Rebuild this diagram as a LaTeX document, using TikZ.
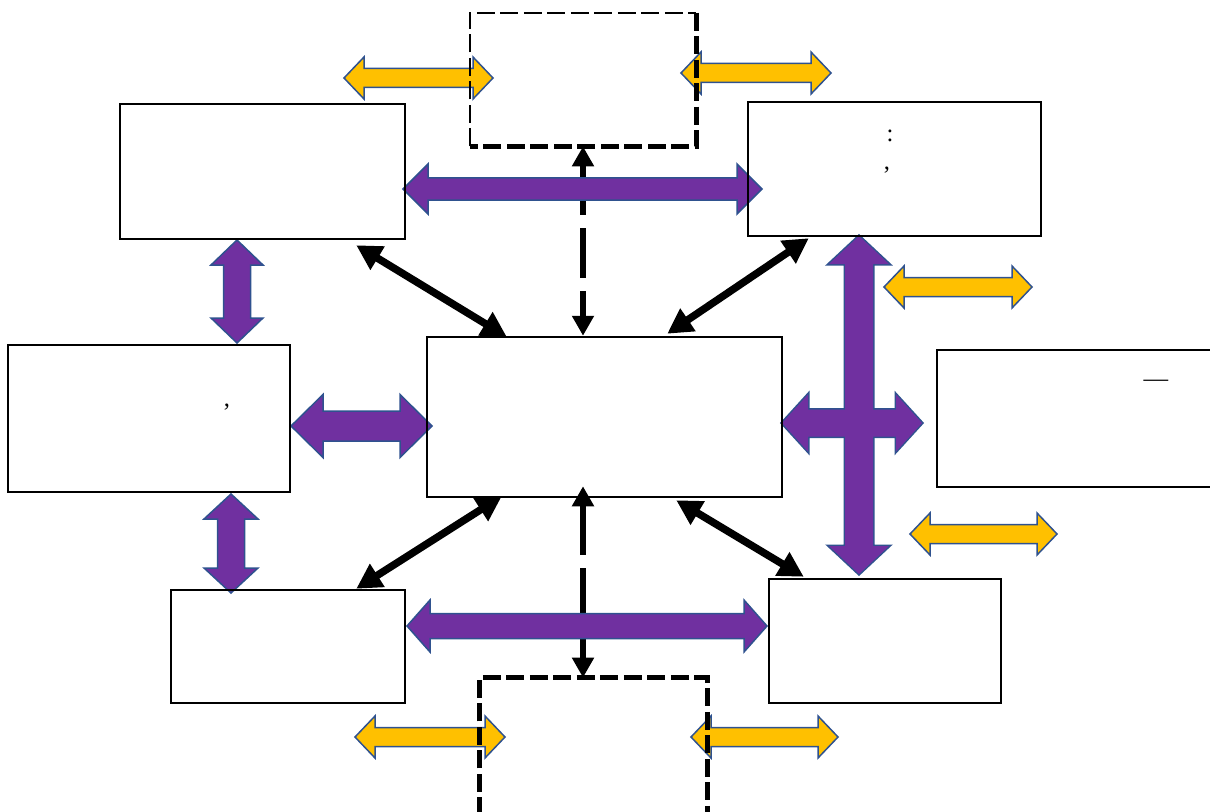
\documentclass[tikz,border=0pt]{standalone}
\usepackage{fontspec}
\setmainfont{Liberation Serif}
\usepackage{tikz}
\usetikzlibrary{arrows.meta,backgrounds,calc,positioning}
\definecolor{flowpurple}{HTML}{7030A0}
\definecolor{flowgold}{HTML}{FFC000}
\definecolor{flowedge}{HTML}{2F528F}
\tikzset{%
  flowbox/.style={%
    draw=black,
    line width=0.5mm,
    inner sep=0pt
  },
  flowaux/.style={%
    inner sep=0pt
  },
  flowauxthin/.style={line width=0.45mm,dash pattern=on 3.6mm off 1.1mm},
  flowauxthick/.style={line width=1mm,dash pattern=on 3.6mm off 1.1mm},
  flowmark/.style={inner sep=0pt,font=\fontsize{14}{16}\selectfont},
  flowarrow/.style={{Triangle[length=5mm,width=5.2mm]}-{Triangle[length=5mm,width=5.2mm]},line width=1.5mm},
  flowdashed/.style={{Triangle[length=4mm,width=4.2mm]}-{Triangle[length=4mm,width=4.2mm]},line width=1.3mm,dash pattern=on 10mm off 2.6mm},
  flowviolet/.style={fill=flowpurple,draw=flowedge,line width=0.3mm,line join=miter},
  flowyellow/.style={fill=flowgold,draw=flowedge,line width=0.3mm,line join=miter}
}
% block double arrow: style, start, end, shaft half width, head half width, head length
\newcommand{\flowblock}[6]{%
  \coordinate (fbA) at ($(#2)!#6!(#3)$);
  \coordinate (fbB) at ($(#3)!#6!(#2)$);
  \path[#1] (#2) -- ($(fbA)!#5!90:(#3)$) -- ($(fbA)!#4!90:(#3)$) -- ($(fbB)!#4!90:(#3)$)
    -- ($(fbB)!#5!90:(#3)$) -- (#3) -- ($(fbB)!#5!-90:(#3)$) -- ($(fbB)!#4!-90:(#3)$)
    -- ($(fbA)!#4!-90:(#3)$) -- ($(fbA)!#5!-90:(#3)$) -- cycle;
}

\begin{document}
\begin{tikzpicture}[x=0.2mm,y=-0.2mm]
    \useasboundingbox (0,0) rectangle (1210,811);

    \node[flowbox,minimum width=57mm,minimum height=27mm] (upleft) at (262.5,171.5) {};
    \node[flowbox,minimum width=58.6mm,minimum height=26.8mm] (upright) at (894.5,169) {};
    \node[flowbox,minimum width=56.4mm,minimum height=29.4mm] (midleft) at (149,418.5) {};
    \node[flowbox,minimum width=71mm,minimum height=32mm] (hub) at (604.5,417) {};
    \node[flowbox,minimum width=56.6mm,minimum height=27.4mm] (midright) at (1078.5,418.5) {};
    \node[flowbox,minimum width=46.8mm,minimum height=22.6mm] (lowleft) at (288,646.5) {};
    \node[flowbox,minimum width=46.4mm,minimum height=24.8mm] (lowright) at (885,641) {};
    \node[flowaux,minimum width=45.2mm,minimum height=26.6mm] (topaux) at (583,79.5) {};
    \node[flowaux,minimum width=45.4mm,minimum height=27.4mm] (botaux) at (593.5,746.5) {};
    \draw[flowauxthin] (topaux.south west) -- (topaux.north west) -- (topaux.north east);
    \draw[flowauxthick] (topaux.north east) -- (topaux.south east) -- (topaux.south west);
    \draw[flowauxthick] (botaux.south west) -- (botaux.north west) -- (botaux.north east) -- (botaux.south east);
    \draw[flowauxthin] (botaux.south east) -- (botaux.south west);

    \node[flowmark] (colonmark) at (890,136) {:};
    \node[flowmark] (commaright) at (887,170) {,};
    \node[flowmark] (commaleft) at (227,407) {,};
    \node[flowmark] (dashmark) at (1156,383) {—};

    \coordinate (topjoinA) at (403,189);
    \coordinate (topjoinB) at (762,189);
    \coordinate (lowjoinA) at (407,626);
    \coordinate (lowjoinB) at (767,626);
    \coordinate (leftupA) at (237,240);
    \coordinate (leftupB) at (237,343);
    \coordinate (leftlowA) at (231,494);
    \coordinate (leftlowB) at (231,593);
    \coordinate (hubleftA) at (291,426);
    \coordinate (hubleftB) at (432,426);
    \coordinate (crossupA) at (859,236);
    \coordinate (crossupB) at (859,574);
    \coordinate (crossmidA) at (782,423);
    \coordinate (crossmidB) at (922,423);
    \coordinate (goldA1) at (344,78);
    \coordinate (goldB1) at (493,78);
    \coordinate (goldA2) at (681,73);
    \coordinate (goldB2) at (831,73);
    \coordinate (goldA3) at (884,287);
    \coordinate (goldB3) at (1032,287);
    \coordinate (goldA4) at (910,534);
    \coordinate (goldB4) at (1057,534);
    \coordinate (goldA5) at (355,737);
    \coordinate (goldB5) at (505,737);
    \coordinate (goldA6) at (691,737);
    \coordinate (goldB6) at (838,737);

    \begin{scope}[on background layer]
      \draw[flowarrow] ($(upleft.south east)+(-50,5)$) -- ($(hub.north west)+(81,1)$);
      \draw[flowarrow] ($(upright.south west)+(62,1)$) -- ($(hub.north east)+(-116,-2)$);
      \draw[flowarrow] ($(lowleft.north east)+(-50,0)$) -- ($(hub.south west)+(76,-2)$);
      \draw[flowarrow] ($(lowright.north west)+(36,-1)$) -- ($(hub.south east)+(-107,2)$);
      \draw[flowdashed] (topaux.south) -- (topaux.south |- hub.north);
      \draw[flowdashed] ($(topaux.south |- hub.south)+(0,-12)$) -- (topaux.south |- botaux.north);

      \flowblock{flowyellow}{goldA1}{goldB1}{1.9mm}{4.2mm}{4mm}
      \flowblock{flowyellow}{goldA2}{goldB2}{1.9mm}{4.2mm}{4mm}
      \flowblock{flowyellow}{goldA3}{goldB3}{1.9mm}{4.2mm}{4mm}
      \flowblock{flowyellow}{goldA4}{goldB4}{1.9mm}{4.2mm}{4mm}
      \flowblock{flowyellow}{goldA5}{goldB5}{1.9mm}{4.2mm}{4mm}
      \flowblock{flowyellow}{goldA6}{goldB6}{1.9mm}{4.2mm}{4mm}

      \flowblock{flowviolet}{topjoinA}{topjoinB}{2.2mm}{5mm}{5mm}
      \flowblock{flowviolet}{lowjoinA}{lowjoinB}{2.5mm}{5.2mm}{4.6mm}
      \flowblock{flowviolet}{leftupA}{leftupB}{2.7mm}{5.2mm}{5mm}
      \flowblock{flowviolet}{leftlowA}{leftlowB}{2.7mm}{5.4mm}{5mm}
      \flowblock{flowviolet}{hubleftA}{hubleftB}{3mm}{6.3mm}{6.4mm}
      % cross: outlines first, fills on top
      \flowblock{draw=flowedge,line width=0.6mm}{crossupA}{crossupB}{2.8mm}{6mm}{5.6mm}
      \flowblock{draw=flowedge,line width=0.6mm}{crossmidA}{crossmidB}{2.7mm}{5.7mm}{5.2mm}
      \flowblock{fill=flowpurple}{crossupA}{crossupB}{2.8mm}{6mm}{5.6mm}
      \flowblock{fill=flowpurple}{crossmidA}{crossmidB}{2.7mm}{5.7mm}{5.2mm}
    \end{scope}
  \end{tikzpicture}
\end{document}
